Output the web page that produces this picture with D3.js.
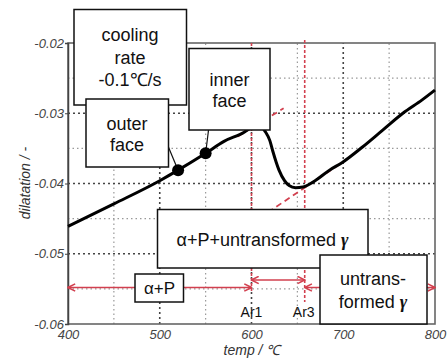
<!DOCTYPE html>
<html><head><meta charset="utf-8">
<script src="https://cdn.jsdelivr.net/npm/d3@7"></script>
<style>body{margin:0;background:#fff;}svg{display:block;font-family:"Liberation Sans",Arial,sans-serif;}</style>
</head><body>
<svg id="c" width="447" height="359"></svg>
<script>
// ---- data ----
const curveTemp = [400,450,500,520,550,570,592,600,606,610,614,620,623,627,630,636,641,648,656,667,685,699,721,743,765,786,800];
const curveDil  = [-0.0461,-0.0429,-0.0396,-0.0381,-0.0357,-0.0340,-0.0327,-0.0320,-0.0315,-0.0316,-0.0324,-0.0339,-0.0353,-0.0370,-0.0381,-0.0396,-0.0403,-0.0406,-0.0405,-0.0398,-0.0381,-0.0370,-0.0348,-0.0324,-0.0300,-0.0281,-0.0267];
const lowTangentTemp = [585,635];
const lowTangentDil = [-0.0333,-0.0293];
const highTangentTemp = [618,700];
const highTangentDil = [-0.0441,-0.0369];
const markTemp = [520,550];
const markDil = [-0.0381,-0.0357];
const xTicks = [400,500,600,700,800];
const yTicks = [-0.06,-0.05,-0.04,-0.03,-0.02];
const xGrid = [450,500,550,600,650,700,750];
const yGrid = [-0.055,-0.05,-0.045,-0.04,-0.035,-0.03,-0.025];
const ar1 = 600, ar3 = 658;

const svg = d3.select("#c");
const x = d3.scaleLinear().domain([400,800]).range([68,435]);
const y = d3.scaleLinear().domain([-0.06,-0.02]).range([324,43]);
const red = "#d2404f";

// grid
xGrid.forEach(v=>{
  const major = v%100===0;
  svg.append("line").attr("x1",x(v)).attr("x2",x(v)).attr("y1",y(-0.06)).attr("y2",y(-0.02))
    .attr("stroke",major?"#444":"#999").attr("stroke-width",major?1.6:1.2).attr("stroke-dasharray",major?"2,3":"1.5,3");
});
yGrid.forEach(v=>{
  const major = Math.abs(Math.round(v*1000)%10)===0;
  svg.append("line").attr("x1",x(400)).attr("x2",x(800)).attr("y1",y(v)).attr("y2",y(v))
    .attr("stroke",major?"#444":"#999").attr("stroke-width",major?1.6:1.2).attr("stroke-dasharray",major?"2,3":"1.5,3");
});

// frame
svg.append("rect").attr("x",x(400)).attr("y",y(-0.02)).attr("width",x(800)-x(400)).attr("height",y(-0.06)-y(-0.02))
  .attr("fill","none").attr("stroke","#666").attr("stroke-width",1.6);

// axes labels
const fmt = d3.format(".2f");
const yAxis = d3.axisLeft(y).tickValues(yTicks).tickSize(3).tickPadding(1).tickFormat(d=>fmt(d).replace("−","-"));
const gy = svg.append("g").attr("transform",`translate(${x(400)},0)`).call(yAxis);
gy.select(".domain").attr("stroke","#444").attr("stroke-width",1.5);
gy.selectAll(".tick line").attr("stroke","#444");
gy.selectAll("text").attr("font-size",13).attr("font-style","italic").attr("fill","#444")
  .attr("font-family","Liberation Sans, Arial, sans-serif");
const xAxis = d3.axisBottom(x).tickValues(xTicks).tickSize(0).tickFormat(d3.format("d"));
const gx = svg.append("g").attr("transform",`translate(0,${y(-0.06)})`).call(xAxis);
gx.select(".domain").remove();
gx.selectAll("text").attr("font-size",13).attr("font-style","italic").attr("fill","#444")
  .attr("font-family","Liberation Sans, Arial, sans-serif").attr("dy","0.9em");

svg.append("text").attr("x",252).attr("y",355).attr("text-anchor","middle").attr("font-size",14)
  .attr("font-style","italic").attr("fill","#333").text("temp / ℃");
svg.append("text").attr("transform",`translate(30,183) rotate(-90)`).attr("text-anchor","middle").attr("font-size",14)
  .attr("font-style","italic").attr("fill","#333").text("dilatation / -");

// red vertical lines
svg.append("line").attr("x1",x(ar1)).attr("x2",x(ar1)).attr("y1",y(-0.02)).attr("y2",292)
  .attr("stroke",red).attr("stroke-width",1.6).attr("stroke-dasharray","3,2");
svg.append("line").attr("x1",x(ar3)).attr("x2",x(ar3)).attr("y1",y(-0.02)-3).attr("y2",302)
  .attr("stroke",red).attr("stroke-width",1.6).attr("stroke-dasharray","3,2");

// tangents
const line = d3.line().x(d=>x(d[0])).y(d=>y(d[1]));
svg.append("path").attr("d",line(d3.zip(lowTangentTemp,lowTangentDil))).attr("stroke",red).attr("stroke-width",1.8)
  .attr("fill","none").attr("stroke-dasharray","6,4");
svg.append("path").attr("d",line(d3.zip(highTangentTemp,highTangentDil))).attr("stroke",red).attr("stroke-width",1.8)
  .attr("fill","none").attr("stroke-dasharray","6,4");

// curve
svg.append("path").attr("d",d3.line().curve(d3.curveMonotoneX).x(d=>x(d[0])).y(d=>y(d[1]))(d3.zip(curveTemp,curveDil)))
  .attr("stroke","#000").attr("stroke-width",3).attr("fill","none");

// arrows
const defs = svg.append("defs");
defs.append("marker").attr("id","ah").attr("viewBox","0 0 10 10").attr("refX",9).attr("refY",5)
  .attr("markerWidth",9).attr("markerHeight",9).attr("markerUnits","userSpaceOnUse").attr("orient","auto-start-reverse")
  .append("path").attr("d","M1,1 L9,5 L1,9").attr("fill","none").attr("stroke",red).attr("stroke-width",1.8);
function arrow(t1,t2,yy){
  svg.append("line").attr("x1",x(t1)).attr("x2",x(t2)).attr("y1",yy).attr("y2",yy)
    .attr("stroke",red).attr("stroke-width",1.6).attr("marker-start","url(#ah)").attr("marker-end","url(#ah)");
}
arrow(400,ar1,287.5);
arrow(ar1,ar3,280);
arrow(ar3,800,287.5);

svg.append("text").attr("x",x(ar1)).attr("y",317).attr("text-anchor","middle").attr("font-size",14).attr("fill","#111").text("Ar1");
svg.append("text").attr("x",x(ar3)-1).attr("y",317).attr("text-anchor","middle").attr("font-size",14).attr("fill","#111").text("Ar3");

// boxes
function box(x0,y0,x1,y1){
  svg.append("rect").attr("x",x0).attr("y",y0).attr("width",x1-x0).attr("height",y1-y0)
    .attr("fill","#fff").attr("stroke","#111").attr("stroke-width",1.5);
}
function txt(cx,cy,s,size){
  return svg.append("text").attr("x",cx).attr("y",cy).attr("text-anchor","middle").attr("dominant-baseline","central")
    .attr("font-size",size).attr("fill","#111").text(s);
}
function gammaTxt(cx,cy,s,size){
  const t = svg.append("text").attr("x",cx).attr("y",cy).attr("text-anchor","middle").attr("dominant-baseline","central")
    .attr("font-size",size).attr("fill","#111");
  t.append("tspan").text(s);
  t.append("tspan").attr("font-family","Liberation Serif, serif").attr("font-weight","bold").attr("font-style","italic").text("γ");
  return t;
}

// leader lines
svg.append("line").attr("x1",168).attr("y1",146).attr("x2",x(markTemp[0])).attr("y2",y(markDil[0])).attr("stroke","#111").attr("stroke-width",1.2);
svg.append("line").attr("x1",208.5).attr("y1",130).attr("x2",x(markTemp[1])).attr("y2",y(markDil[1])).attr("stroke","#111").attr("stroke-width",1.2);

box(74,9.5,186.5,105);
txt(130,35,"cooling",18); txt(130,57.5,"rate",18); txt(130,80,"-0.1℃/s",18);
box(189,48.5,270,130);
txt(229.5,80,"inner",18); txt(229.5,101,"face",18);
box(86,99,168.5,167);
txt(127,124,"outer",18); txt(127,145,"face",18);

// markers
svg.selectAll("circle.m").data(d3.zip(markTemp,markDil)).join("circle")
  .attr("cx",d=>x(d[0])).attr("cy",d=>y(d[1])).attr("r",6).attr("fill","#000");

box(157.5,209.5,368,268);
gammaTxt(262.5,240,"α+P+untransformed ",18);
box(135,274,183.5,302);
txt(159.5,288.5,"α+P",17);
box(320,255,427,324);
txt(373,279,"untrans-",18);
gammaTxt(373,301.5,"formed ",18);
</script>
</body></html>
